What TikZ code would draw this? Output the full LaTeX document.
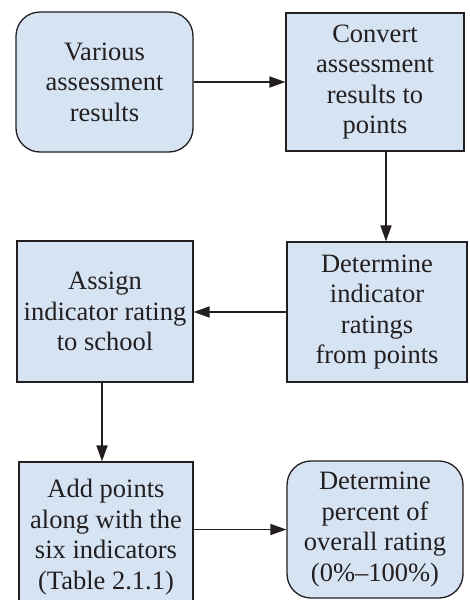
\documentclass[tikz,border=0pt]{standalone}
\usepackage{fontspec}
\setmainfont{Liberation Serif}
\usetikzlibrary{arrows.meta}
\definecolor{boxfill}{HTML}{D5E3F3}
\definecolor{ink}{HTML}{231F20}
\tikzset{
  box/.style={draw=ink, line width=1.3pt, fill=boxfill, text=ink, align=center,
    inner sep=0pt, font=\fontsize{26.5}{30.5}\selectfont},
  rbox/.style={box, rounded corners=24pt},
  flow/.style={draw=ink, line width=1.8pt, -{Triangle[length=16pt,width=11pt]}}
}
\begin{document}
\begin{tikzpicture}[x=1pt,y=-1pt]
\useasboundingbox (0,0) rectangle (469,600);
\clip (0,0) rectangle (469,600);
\node[rbox, minimum width=177pt, minimum height=140pt] (b1) at (104.5,82) {Various\\assessment\\results};
\node[box, minimum width=178pt, minimum height=138pt] (b2) at (375,82) {Convert\\assessment\\results to\\points};
\node[box, minimum width=180pt, minimum height=140pt] (b3) at (377,312) {Determine\\indicator\\ratings\\from points};
\node[box, minimum width=176pt, minimum height=141pt] (b4) at (105,311.5) {Assign\\indicator rating\\to school};
\node[box, minimum width=174pt, minimum height=150pt] (b5) at (106,537) {Add points\\along with the\\six indicators\\(Table 2.1.1)};
\node[rbox, minimum width=176pt, minimum height=137pt] (b6) at (375,529.5) {Determine\\percent of\\overall rating\\(0\%–100\%)};
\coordinate (vx1) at (386,0);
\coordinate (vx2) at (102,0);
\draw[flow] (b1.east) -- (b2.west);
\draw[flow] (b2.south -| vx1) -- (b3.north -| vx1);
\draw[flow] (b3.west) -- (b3.west -| b4.east);
\draw[flow] (b4.south -| vx2) -- (b5.north -| vx2);
\draw[flow] (b6.west -| b5.east) -- (b6.west);
\end{tikzpicture}
\end{document}
